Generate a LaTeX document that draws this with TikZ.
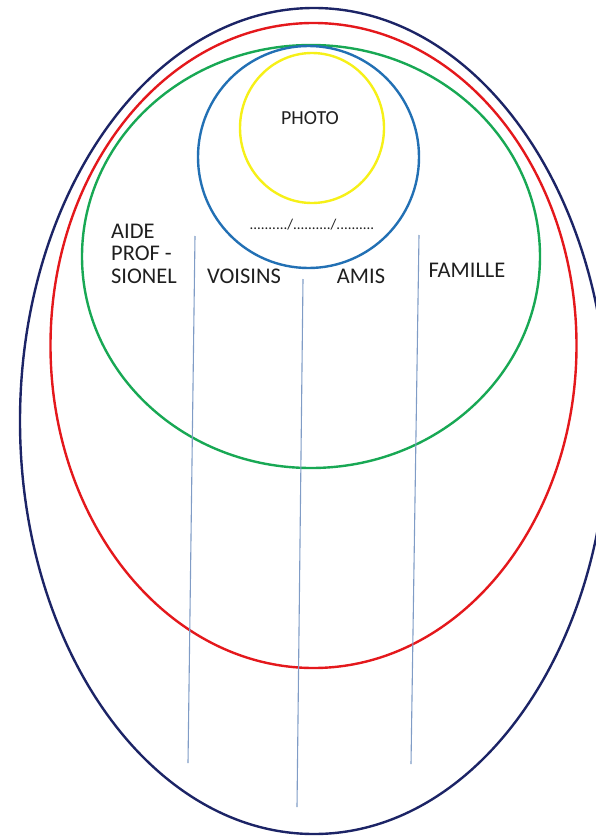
\documentclass[tikz,border=0pt]{standalone}
\usepackage{fontspec}
\setmainfont{Carlito}
\usetikzlibrary{positioning}

\definecolor{navyring}{RGB}{28,36,102}
\definecolor{redring}{RGB}{228,24,28}
\definecolor{greenring}{RGB}{24,168,84}
\definecolor{bluering}{RGB}{34,112,180}
\definecolor{yellowring}{RGB}{246,240,24}
\definecolor{divline}{RGB}{128,156,198}

\begin{document}
\begin{tikzpicture}[x=1bp, y=-1bp,
  ring/.style={line width=2.4bp},
  divider/.style={draw=divline, line width=1.1bp},
  lab/.style={font=\fontsize{22.5}{22.5}\selectfont, text=black!88, inner sep=0pt, anchor=base},
  datefld/.style={font=\fontsize{15}{15}\selectfont, text=black!88, inner sep=0pt}]
\useasboundingbox (0,0) rectangle (596,836);
% rings
\draw[ring, navyring] (314,421) ellipse [x radius=294bp, y radius=413bp];
\draw[ring, redring] (313.5,345.5) ellipse [x radius=263bp, y radius=322.5bp];
\draw[ring, greenring] (311,256.5) ellipse [x radius=229bp, y radius=211.5bp];
\draw[ring, bluering] (308.5,157) ellipse [x radius=110.5bp, y radius=111bp];
\draw[ring, yellowring] (312,128) ellipse [x radius=72bp, y radius=75bp];
% dividers
\coordinate (d1top) at (195,236);
\coordinate (d1bot) at (188,763);
\coordinate (d2top) at (303,279);
\coordinate (d2bot) at (297,807);
\coordinate (d3top) at (419,235);
\coordinate (d3bot) at (411,764);
\draw[divider] (d1top) -- (d1bot);
\draw[divider] (d2top) -- (d2bot);
\draw[divider] (d3top) -- (d3bot);
% labels
\node[lab, font=\fontsize{20}{20}\selectfont] (photo) at (310,124) {PHOTO};
\node[datefld] (date) at (312,225) {........../........../..........};
\node[lab, anchor=base west, align=left] (aide) at (111,283) {AIDE\\PROF -\\SIONEL};
\node[lab] (voisins) at (244,283) {VOISINS};
\node[lab] (amis) at (361,283) {AMIS};
\node[lab] (famille) at (467,277) {FAMILLE};
\end{tikzpicture}
\end{document}
